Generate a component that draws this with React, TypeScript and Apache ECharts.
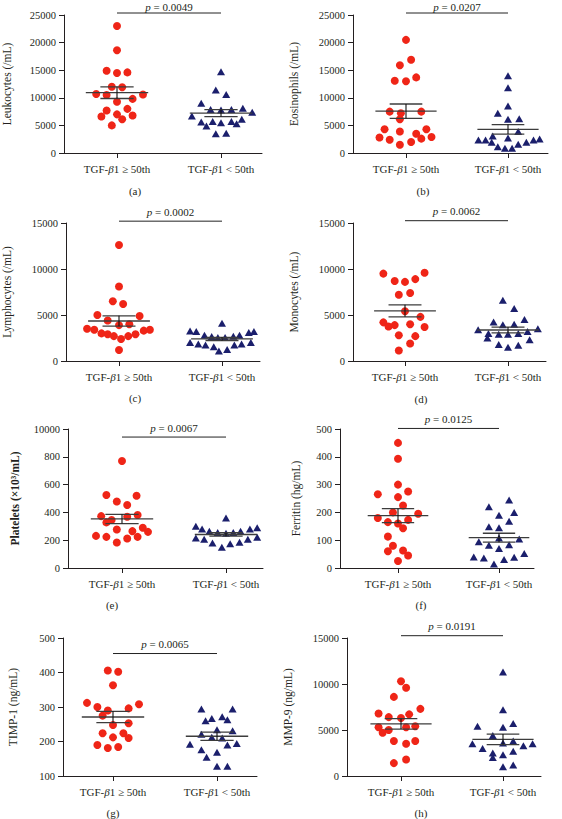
import React, { useEffect, useRef } from "react";
import * as echarts from "echarts";

// ---------- DATA ----------
const groupLabels = ["TGF-β1 ≥ 50th", "TGF-β1 < 50th"];

const leukoHighVals = [23000, 18600, 14900, 14500, 14600, 12000, 11900, 10700, 10500, 10600, 9800, 9300, 7700, 8000, 7000, 6600, 6800, 6100, 5000];
const leukoHighJit = [0, 0, -0.1, 0, 0.1, -0.05, 0.05, -0.2, -0.1, 0.25, 0.15, 0, -0.1, 0.1, 0, -0.15, 0.15, 0.05, -0.05];
const leukoLowVals = [14700, 11400, 10600, 9000, 7900, 7800, 7900, 8100, 6700, 7400, 5600, 5700, 5500, 5700, 6100, 5300, 4900, 3500, 3600];
const leukoLowJit = [0, -0.05, 0.05, -0.19, -0.1, 0, 0.1, 0.21, -0.28, 0.3, -0.19, -0.08, 0, 0.1, 0.2, 0.15, -0.14, -0.05, 0.05];

const eosHighVals = [20500, 16900, 15900, 13100, 13000, 13700, 7500, 7200, 7500, 6100, 4300, 4300, 3900, 3500, 2800, 2400, 2600, 2900, 2000, 1500];
const eosHighJit = [0, 0.05, -0.06, -0.11, 0, 0.1, -0.16, -0.05, 0.15, -0.06, -0.21, 0.2, -0.06, 0.1, -0.26, -0.16, 0.15, 0.25, 0.05, -0.06];
const eosLowVals = [14000, 11800, 8500, 7200, 6100, 6200, 3900, 3100, 2700, 2350, 2350, 1930, 1150, 850, 850, 1570, 1930, 2350, 2540];
const eosLowJit = [0, 0, 0, -0.1, 0, 0.11, 0.1, -0.15, 0, -0.29, -0.22, -0.16, -0.1, -0.03, 0.04, 0.1, 0.18, 0.25, 0.31];

const lymphHighVals = [12600, 8100, 6500, 6200, 5000, 4900, 4400, 3900, 4000, 3500, 3400, 3000, 2900, 2700, 2400, 2700, 2900, 3300, 3400, 1200];
const lymphHighJit = [0, 0, -0.06, 0.04, -0.21, 0.2, -0.11, 0, 0.1, -0.31, -0.24, -0.17, -0.11, -0.05, 0.02, 0.09, 0.16, 0.24, 0.3, 0];
const lymphLowVals = [4100, 3250, 3200, 2800, 2650, 2550, 2550, 2700, 2800, 3100, 3200, 2000, 1850, 1750, 1550, 1100, 1250, 1750, 1850, 2000];
const lymphLowJit = [0, -0.31, -0.25, -0.17, -0.1, -0.04, 0.03, 0.11, 0.17, 0.26, 0.31, -0.31, -0.23, -0.16, -0.08, -0.03, 0.05, 0.12, 0.19, 0.28];

const monoHighVals = [9500, 9600, 8700, 8600, 8900, 7200, 7400, 5400, 4800, 4200, 3750, 3900, 4000, 3700, 2800, 2700, 1900, 1150];
const monoHighJit = [-0.21, 0.19, -0.1, 0, 0.1, -0.06, 0.05, 0, 0.15, -0.21, -0.16, -0.1, 0.05, 0.19, -0.06, 0.1, 0.05, -0.06];
const monoLowVals = [6600, 5700, 4250, 3950, 4000, 4500, 3400, 3000, 2900, 2900, 3000, 3200, 3500, 2500, 1800, 1500, 1700, 2300];
const monoLowJit = [-0.05, 0.06, -0.14, -0.05, 0.06, 0.16, -0.29, -0.19, -0.09, 0, 0.1, 0.19, 0.29, -0.2, -0.09, 0, 0.1, 0.21];

const platHighVals = [770, 525, 520, 478, 453, 373, 345, 328, 369, 381, 277, 290, 260, 265, 231, 224, 183, 212, 224];
const platHighJit = [0, -0.15, 0.14, -0.05, 0.05, -0.2, -0.1, -0.15, 0.05, 0.15, -0.05, 0.2, 0.25, 0.1, -0.25, -0.15, -0.05, 0.05, 0.15];
const platLowVals = [360, 300, 280, 265, 255, 250, 255, 265, 280, 290, 215, 207, 180, 150, 175, 185, 207, 222];
const platLowJit = [0, -0.29, -0.23, -0.16, -0.08, 0, 0.07, 0.14, 0.23, 0.3, -0.29, -0.21, -0.13, -0.04, 0.04, 0.13, 0.21, 0.3];
const platTickLabels: Record<number, string> = { 0: "0", 200: "200", 400: "400", 600: "600", 800: "800", 1000: "10000" };

const ferrHighVals = [450, 393, 300, 265, 275, 255, 225, 200, 195, 180, 165, 160, 173, 143, 113, 80, 60, 63, 45, 25];
const ferrHighJit = [0, 0, 0, -0.2, 0.1, 0, 0.05, -0.05, 0.2, -0.2, -0.1, 0, 0.1, 0.05, -0.1, -0.05, -0.1, 0.05, 0.1, 0];
const ferrLowVals = [245, 220, 190, 200, 168, 148, 145, 108, 94, 104, 82, 84, 70, 40, 36, 31, 39, 52, 14];
const ferrLowJit = [0.1, -0.1, 0, 0.15, 0.1, -0.1, 0, 0, -0.2, 0.2, -0.1, 0.1, 0, -0.25, -0.15, 0.05, 0.15, 0.25, -0.05];

const timpHighVals = [406, 402, 363, 312, 300, 290, 296, 308, 275, 248, 253, 224, 224, 212, 210, 190, 181, 184];
const timpHighJit = [-0.05, 0.05, 0, -0.25, -0.15, -0.05, 0.15, 0.25, -0.1, 0, 0.15, -0.1, 0.1, 0, 0.15, -0.15, -0.05, 0.05];
const timpLowVals = [294, 294, 260, 267, 272, 263, 234, 231, 221, 212, 210, 192, 190, 194, 176, 169, 154, 128, 128];
const timpLowJit = [-0.15, 0.15, -0.11, -0.05, 0.05, 0.1, 0, 0.15, -0.15, -0.05, 0.05, -0.26, 0.1, 0.19, -0.15, 0, -0.1, 0, 0.1];

const mmpHighVals = [10300, 9600, 8600, 7300, 6800, 6700, 6400, 6300, 5300, 5400, 5300, 5000, 4700, 3800, 3800, 3500, 1800, 1400];
const mmpHighJit = [0, 0.05, -0.07, 0.19, -0.22, 0.08, -0.12, 0, -0.22, 0.14, 0.05, -0.12, -0.18, -0.07, 0.14, 0.05, 0.05, -0.07];
const mmpLowVals = [11300, 7200, 5400, 5300, 5700, 4400, 3500, 3000, 3600, 3800, 3300, 3500, 2500, 2000, 2300, 2700, 1000, 1200];
const mmpLowJit = [0, 0, -0.25, 0, 0.1, -0.1, -0.3, -0.2, 0, 0.1, 0.2, 0.29, -0.1, -0.1, 0, 0.1, 0, 0.1];

const yNames = ["Leukocytes (/mL)", "Eosinophils (/mL)", "Lymphocytes (/mL)", "Monocytes (/mL)", "Platelets (×10³/mL)", "Ferritin (hg/mL)", "TIMP-1 (ng/mL)", "MMP-9 (ng/mL)"];
const pValues = ["0.0049", "0.0207", "0.0002", "0.0062", "0.0067", "0.0125", "0.0065", "0.0191"];
const panelTags = ["(a)", "(b)", "(c)", "(d)", "(e)", "(f)", "(g)", "(h)"];
const yRanges = [
  [0, 25000, 5000], [0, 25000, 5000], [0, 15000, 5000], [0, 15000, 5000],
  [0, 1000, 200], [0, 500, 100], [100, 500, 100], [0, 15000, 5000],
];
const bracketLevels = [25360, 25360, 15200, 15250, 942, 502, 455, 15250];

const panelData = [
  [leukoHighVals, leukoHighJit, leukoLowVals, leukoLowJit],
  [eosHighVals, eosHighJit, eosLowVals, eosLowJit],
  [lymphHighVals, lymphHighJit, lymphLowVals, lymphLowJit],
  [monoHighVals, monoHighJit, monoLowVals, monoLowJit],
  [platHighVals, platHighJit, platLowVals, platLowJit],
  [ferrHighVals, ferrHighJit, ferrLowVals, ferrLowJit],
  [timpHighVals, timpHighJit, timpLowVals, timpLowJit],
  [mmpHighVals, mmpHighJit, mmpLowVals, mmpLowJit],
];

// ---------- LAYOUT ----------
const layouts = [
  { axisX: 64, cat1: 117, cat2: 221, right: 262, top: 15, bottom: 153, nameGap: 51, tagX: 135, tagY: 191 },
  { axisX: 353, cat1: 406, cat2: 508, right: 548, top: 15, bottom: 153, nameGap: 53, tagX: 423, tagY: 191 },
  { axisX: 66, cat1: 119, cat2: 222, right: 260, top: 223, bottom: 361, nameGap: 53, tagX: 135, tagY: 398 },
  { axisX: 353, cat1: 405, cat2: 508, right: 546, top: 223, bottom: 361, nameGap: 53, tagX: 421, tagY: 399 },
  { axisX: 68, cat1: 122, cat2: 226, right: 263, top: 429, bottom: 568, nameGap: 47, tagX: 112, tagY: 605 },
  { axisX: 340, cat1: 398, cat2: 499, right: 534, top: 429, bottom: 568, nameGap: 38, tagX: 421, tagY: 605 },
  { axisX: 63, cat1: 113, cat2: 217, right: 257, top: 638, bottom: 776, nameGap: 44, tagX: 113, tagY: 813 },
  { axisX: 347, cat1: 401, cat2: 503, right: 541, top: 638, bottom: 776, nameGap: 53, tagX: 421, tagY: 813 },
];

const FONT = '"Liberation Serif", "DejaVu Serif", serif';
const TEXT = "#231f20";
const RED = "#ef2517";
const NAVY = "#1b1f6c";
const AXIS = "#231f20";

function meanSem(v: number[]) {
  const n = v.length;
  const m = v.reduce((a, b) => a + b, 0) / n;
  const sd = Math.sqrt(v.reduce((a, b) => a + (b - m) * (b - m), 0) / (n - 1));
  return [m, sd / Math.sqrt(n)];
}

function richLabel(s: string) {
  return s.replace("β", "{i|β}");
}

function buildOption() {
  const grid: any[] = [];
  const xAxis: any[] = [];
  const yAxis: any[] = [];
  const series: any[] = [];
  const graphic: any[] = [];

  layouts.forEach((L, i) => {
    const unit = L.cat2 - L.cat1;
    const xMin = 1 - (L.cat1 - L.axisX) / unit;
    const xMax = 2 + (L.right - L.cat2) / unit;
    grid.push({
      left: L.axisX, top: L.top, width: L.right - L.axisX, height: L.bottom - L.top,
      containLabel: false, outerBoundsMode: "none",
    });
    xAxis.push({
      type: "value", gridIndex: i, min: xMin, max: xMax,
      axisLine: { show: true, onZero: false, lineStyle: { color: AXIS, width: 1 } },
      axisTick: { show: true, customValues: [1, 2], length: 5, lineStyle: { color: AXIS } },
      axisLabel: {
        customValues: [1, 2], margin: 10, color: TEXT, fontFamily: FONT, fontSize: 11,
        formatter: (v: number) => (v === 1 ? richLabel(groupLabels[0]) : v === 2 ? richLabel(groupLabels[1]) : ""),
        rich: { i: { fontStyle: "italic", fontFamily: FONT, fontSize: 11, color: TEXT } },
      },
      splitLine: { show: false },
    });
    const [yMin, yMax, yStep] = yRanges[i];
    yAxis.push({
      type: "value", gridIndex: i, min: yMin, max: yMax, interval: yStep,
      axisLine: { show: true, lineStyle: { color: AXIS, width: 1 } },
      axisTick: { show: true, length: 5, lineStyle: { color: AXIS } },
      axisLabel: {
        margin: 8, color: TEXT, fontFamily: FONT, fontSize: 10.5,
        formatter: i === 4 ? (v: number) => platTickLabels[v] ?? String(v) : (v: number) => String(v),
      },
      splitLine: { show: false },
      name: yNames[i], nameLocation: "middle", nameGap: L.nameGap,
      nameTextStyle: { color: TEXT, fontFamily: FONT, fontSize: 11.5, fontWeight: i === 4 ? "bold" : "normal" },
    });

    const [hv, hj, lv, lj] = panelData[i];
    series.push({
      type: "scatter", xAxisIndex: i, yAxisIndex: i, symbol: "circle", symbolSize: 8,
      itemStyle: { color: RED, opacity: 1 },
      data: hv.map((v, k) => [1 + hj[k], v]), z: 2,
    });
    series.push({
      type: "scatter", xAxisIndex: i, yAxisIndex: i, symbol: "triangle", symbolSize: [8, 7],
      itemStyle: { color: NAVY, opacity: 1 },
      data: lv.map((v, k) => [2 + lj[k], v]), z: 2,
    });
    const [m1, s1] = meanSem(hv);
    const [m2, s2] = meanSem(lv);
    series.push({
      type: "custom", xAxisIndex: i, yAxisIndex: i, z: 5, clip: false,
      encode: { x: 0, y: 1 },
      data: [[1, m1, s1], [2, m2, s2]],
      renderItem: (params: any, api: any) => {
        const cx = api.value(0), m = api.value(1), s = api.value(2);
        const mL = api.coord([cx - 0.3, m]), mR = api.coord([cx + 0.3, m]);
        const uL = api.coord([cx - 0.16, m + s]), uR = api.coord([cx + 0.16, m + s]);
        const dL = api.coord([cx - 0.16, m - s]), dR = api.coord([cx + 0.16, m - s]);
        const vt = api.coord([cx, m + s]), vb = api.coord([cx, m - s]);
        const st = { stroke: "#3c3c3c", lineWidth: 1.3 };
        return {
          type: "group",
          children: [
            { type: "line", shape: { x1: mL[0], y1: mL[1], x2: mR[0], y2: mR[1] }, style: st },
            { type: "line", shape: { x1: uL[0], y1: uL[1], x2: uR[0], y2: uR[1] }, style: st },
            { type: "line", shape: { x1: dL[0], y1: dL[1], x2: dR[0], y2: dR[1] }, style: st },
            { type: "line", shape: { x1: vt[0], y1: vt[1], x2: vb[0], y2: vb[1] }, style: { stroke: "#111", lineWidth: 1.1 } },
          ],
        };
      },
    });
    series.push({
      type: "custom", xAxisIndex: i, yAxisIndex: i, z: 5, clip: false,
      encode: { x: 0, y: 1 },
      data: [[1, bracketLevels[i], 2]],
      renderItem: (params: any, api: any) => {
        const a = api.coord([api.value(0), api.value(1)]);
        const b = api.coord([api.value(2), api.value(1)]);
        return {
          type: "group",
          children: [
            { type: "line", shape: { x1: a[0], y1: a[1], x2: b[0], y2: b[1] }, style: { stroke: "#222", lineWidth: 1 } },
            {
              type: "text", x: (a[0] + b[0]) / 2, y: Math.max(a[1] - 9.5, 6.5),
              style: {
                text: "{i|p} = " + pValues[i], fill: TEXT, fontFamily: FONT, fontSize: 11,
                align: "center", verticalAlign: "middle",
                rich: { i: { fontStyle: "italic", fontFamily: FONT, fontSize: 11, fill: TEXT } },
              },
            },
          ],
        };
      },
    });
    graphic.push({
      type: "text", x: L.tagX, y: L.tagY,
      style: { text: panelTags[i], fill: TEXT, fontFamily: FONT, fontSize: 11, align: "center", verticalAlign: "middle" },
    });
  });

  return { animation: false, backgroundColor: "#ffffff", grid, xAxis, yAxis, series, graphic };
}

export default function App() {
  const ref = useRef<HTMLDivElement>(null);
  useEffect(() => {
    if (!ref.current) return;
    const chart = echarts.init(ref.current, null, { renderer: "svg" });
    chart.setOption(buildOption() as any);
    return () => chart.dispose();
  }, []);
  return (
    <div
      ref={ref}
      style={{ position: "fixed", left: 0, top: 0, width: 562, height: 819, background: "#fff" }}
    />
  );
}
